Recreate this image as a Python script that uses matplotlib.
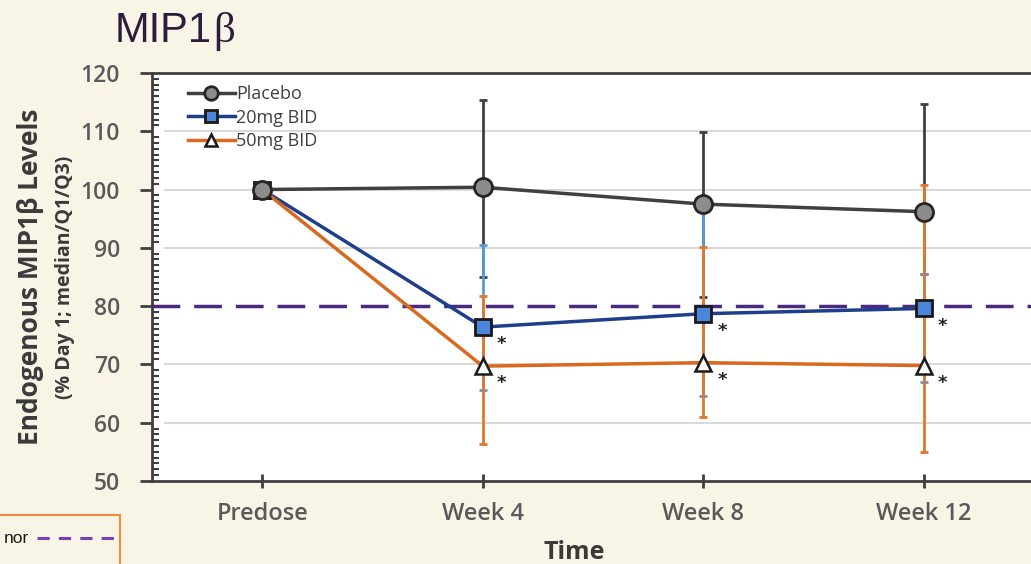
import matplotlib.pyplot as plt
from matplotlib.patches import Rectangle
from matplotlib.lines import Line2D

### data: median and quartiles, % of Day 1
weeks = ['Predose', 'Week 4', 'Week 8', 'Week 12']

placebo_med = [100, 100.4, 97.5, 96.2]
placebo_q1 = [100, 85.0, 81.5, 85.5]
placebo_q3 = [100, 115.4, 109.8, 114.7]

mg20_med = [100, 76.4, 78.7, 79.6]
mg20_q1 = [100, 65.6, 64.6, 67.0]
mg20_q3 = [100, 90.5, 96.5, 85.5]

mg50_med = [100, 69.7, 70.3, 69.8]
mg50_q1 = [100, 56.4, 60.9, 54.9]
mg50_q3 = [100, 81.7, 90.2, 100.8]

threshold = 80

bg = '#f8f5e7'
fig = plt.figure(figsize=(10.31, 5.64), dpi=100, facecolor=bg)
ax = fig.add_axes([0.1474, 0.1472, 0.8555, 0.7234])
ax.set_facecolor('white')

x = list(range(len(weeks)))

def err(med, q1, q3):
    return [[m - a for m, a in zip(med, q1)], [b - m for m, b in zip(med, q3)]]

### error bars (placebo at the bottom, 50mg on top)
ax.errorbar(x, placebo_med, yerr=err(placebo_med, placebo_q1, placebo_q3),
            fmt='none', ecolor='#404040', elinewidth=2, capsize=3, capthick=2, zorder=2)
ax.errorbar(x, mg20_med, yerr=err(mg20_med, mg20_q1, mg20_q3),
            fmt='none', ecolor='#5b9bd5', elinewidth=2, capsize=3, capthick=2, zorder=2.1)
ax.errorbar(x, mg50_med, yerr=err(mg50_med, mg50_q1, mg50_q3),
            fmt='none', ecolor='#e0782f', elinewidth=2, capsize=3, capthick=2, zorder=2.2)

### dashed reference line
ax.axhline(threshold, color='#4a2a7e', lw=2.5, dashes=(8, 4), zorder=3)

### median lines
ax.plot(x, placebo_med, color='#404040', lw=2.5, marker='o', ms=13,
        mfc='#8c8c8c', mec='#262626', mew=2, zorder=5, label='Placebo')
ax.plot(x, mg20_med, color='#1f3e8c', lw=2.5, marker='s', ms=12,
        mfc='#4a86dc', mec='#1a1a1a', mew=2, zorder=4, label='20mg BID')
ax.plot(x, mg50_med, color='#d9691f', lw=2.5, marker='^', ms=11,
        mfc='white', mec='#1a1a1a', mew=1.8, zorder=4, label='50mg BID')

### significance stars
for i in range(1, len(weeks)):
    for v in (mg20_med[i], mg50_med[i]):
        ax.annotate('*', (i, v), xytext=(10, -16), textcoords='offset points',
                    fontsize=13, fontweight='bold', color='#222222', zorder=6)

### axes styling
ax.set_xlim(-0.5, 3.5)
ax.set_ylim(50, 120)
ax.set_yticks(range(50, 121, 10))
ax.set_yticks(range(50, 121, 1), minor=True)
ax.set_xticks(x)
ax.set_xticklabels(weeks)
for y in (60, 70, 90, 100, 110):
    ax.axhline(y, xmin=0.015, color='#d9d9d9', lw=1.5, zorder=1)

for s in ax.spines.values():
    s.set_color('#3f3f3f')
    s.set_linewidth(2)

ax.tick_params(axis='y', which='major', direction='out', length=9, width=2,
               color='#3f3f3f', labelsize=16.5, labelcolor='#595959', pad=14)
ax.tick_params(axis='y', which='minor', direction='in', length=5, width=1.5, color='#3f3f3f')
ax.tick_params(axis='x', which='major', direction='inout', length=10, width=2,
               color='#3f3f3f', labelsize=17, labelcolor='#595959', pad=10)
for lbl in ax.get_xticklabels() + ax.get_yticklabels():
    lbl.set_family('Open Sans')
    lbl.set_fontweight('semibold')

fig.text(574 / 1031, 0.021, 'Time', ha='center', va='center', fontsize=18,
         fontweight='bold', color='#3a3a3a', family='Open Sans')

fig.text(0.030, 0.509, 'Endogenous MIP1\u03b2 Levels', rotation=90, ha='center', va='center',
         fontsize=19, fontweight='bold', color='#3a3a3a', family='Open Sans')
fig.text(0.063, 0.509, '(% Day 1; median/Q1/Q3)', rotation=90, ha='center', va='center',
         fontsize=14, fontweight='bold', color='#3a3a3a', family='Open Sans')

### legend
leg = ax.legend(loc='upper left', bbox_to_anchor=(0.022, 1.01), frameon=False,
                handlelength=2.6, handletextpad=0.1, labelspacing=0.3, markerscale=0.75,
                prop={'family': 'Open Sans', 'size': 13})
for t in leg.get_texts():
    t.set_color('#404040')

### title
fig.text(0.111, 0.945, 'MIP1', fontsize=30, color='#2b1d3b',
         family='Liberation Sans', va='center')
fig.text(0.207, 0.945, '\u03b2', fontsize=31, color='#2b1d3b',
         family='Liberation Serif', va='center')

### partial key box at the bottom-left
fig.patches.append(Rectangle((-0.02, -0.05), 0.136, 0.137, transform=fig.transFigure,
                             fill=False, edgecolor='#f08a3c', lw=1.5))
fig.text(0.028, 0.046, 'nor', ha='right', va='center', fontsize=12.5, color='#1a1a1a',
         family='Liberation Sans')
fig.add_artist(Line2D([0.036, 0.113], [0.046, 0.046], transform=fig.transFigure,
                      color='#7b3fb5', lw=2.2, dashes=(4, 3)))
fig.text(0.022, -0.008, 'or', ha='right', va='center', fontsize=12.5, color='#1a1a1a',
         family='Liberation Sans')

plt.savefig('out.png', dpi=100, facecolor=bg)
